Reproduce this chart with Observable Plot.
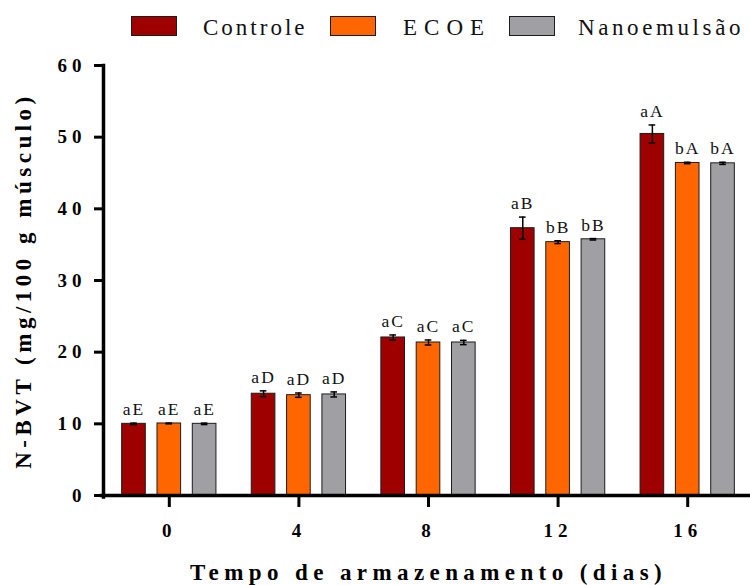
<!DOCTYPE html>
<html>
<head>
<meta charset="utf-8">
<script src="https://cdn.jsdelivr.net/npm/d3@7"></script>
<script src="https://cdn.jsdelivr.net/npm/@observablehq/plot@0.6"></script>
<style>
  body { margin: 0; background: #fff; }
  #chart { position: relative; width: 750px; height: 585px; overflow: hidden; font-family: "Liberation Serif", "Times New Roman", serif; background: #fff; }
  .legend { position: relative; width: 750px; height: 45px; }
  .sw { position: absolute; top: 16px; width: 44px; height: 18px; border: 1px solid #1c1c1c; }
  .lt { position: absolute; top: 16px; font-size: 23px; line-height: 23px; color: #111; white-space: nowrap; }
  #chart svg [aria-label="y-axis tick label"] text,
  #chart svg [aria-label="fx-axis tick label"] text { letter-spacing: 5px; }
  #chart svg [aria-label="y-axis label"] text { font-size: 23px; letter-spacing: 4.5px; }
  #chart svg [aria-label="fx-axis label"] text { font-size: 23px; letter-spacing: 5.4px; }
  #chart svg [aria-label="text"] text { letter-spacing: 2px; }
</style>
</head>
<body>
<div id="chart"></div>
<script>
// Storage days (x groups)
const days = [0, 4, 8, 12, 16];

// Treatments
const seriesNames = ["Controle", "ECOE", "Nanoemulsão"];
const seriesColors = ["#9e0000", "#ff6600", "#a0a0a4"];

// N-BVT means (mg/100 g músculo) and error bars
const controle = [10.0, 14.2, 22.05, 37.3, 50.45];
const controleErr = [0.1, 0.4, 0.35, 1.55, 1.25];
const ecoe = [10.05, 14.0, 21.35, 35.35, 46.4];
const ecoeErr = [0.05, 0.3, 0.35, 0.2, 0.1];
const nano = [10.0, 14.1, 21.35, 35.75, 46.35];
const nanoErr = [0.1, 0.35, 0.3, 0.1, 0.15];

// Significance letters above each bar
const controleLabels = ["aE", "aD", "aC", "aB", "aA"];
const ecoeLabels = ["aE", "aD", "aC", "bB", "bA"];
const nanoLabels = ["aE", "aD", "aC", "bB", "bA"];

// Y axis ticks
const yTicks = [0, 10, 20, 30, 40, 50, 60];

const seriesData = [
  {name: seriesNames[0], values: controle, errors: controleErr, labels: controleLabels},
  {name: seriesNames[1], values: ecoe, errors: ecoeErr, labels: ecoeLabels},
  {name: seriesNames[2], values: nano, errors: nanoErr, labels: nanoLabels}
];

const rows = [];
days.forEach((day, i) => {
  for (const s of seriesData) {
    rows.push({day, series: s.name, value: s.values[i], err: s.errors[i], label: s.labels[i]});
  }
});

// Legend
const legendLayout = [
  {sw: 131, tx: 203, ls: 3},
  {sw: 330, tx: 403, ls: 7},
  {sw: 509, tx: 578, ls: 3.6}
];
const chart = document.getElementById("chart");
const legend = document.createElement("div");
legend.className = "legend";
seriesNames.forEach((name, i) => {
  const sw = document.createElement("div");
  sw.className = "sw";
  sw.style.left = legendLayout[i].sw + "px";
  sw.style.background = seriesColors[i];
  const lt = document.createElement("div");
  lt.className = "lt";
  lt.style.left = legendLayout[i].tx + "px";
  lt.style.letterSpacing = legendLayout[i].ls + "px";
  lt.textContent = name;
  legend.append(sw, lt);
});
chart.append(legend);

const errTop = d => d.value + d.err;
const errBottom = d => d.value - d.err;

const plot = Plot.plot({
  width: 750,
  height: 540,
  marginTop: 20,
  marginBottom: 90,
  marginLeft: 104,
  marginRight: 0,
  style: {fontFamily: "'Liberation Serif', 'Times New Roman', serif", color: "#000", background: "#fff", overflow: "visible"},
  fx: {domain: days, range: [104, 752], padding: 0, round: false},
  x: {domain: seriesNames, paddingInner: 0.331, paddingOuter: 0.5, round: false, axis: null},
  y: {domain: [0, 60]},
  color: {domain: seriesNames, range: seriesColors},
  marks: [
    Plot.barY(rows, {fx: "day", x: "series", y: "value", fill: "series", stroke: "#1c1c1c", strokeWidth: 1}),
    Plot.ruleX(rows, {fx: "day", x: "series", y1: errBottom, y2: errTop, stroke: "#000", strokeWidth: 1.5}),
    Plot.tickY(rows, {fx: "day", x: "series", y: errTop, stroke: "#000", strokeWidth: 1.5, insetLeft: 8.5, insetRight: 8.5}),
    Plot.tickY(rows, {fx: "day", x: "series", y: errBottom, stroke: "#000", strokeWidth: 1.5, insetLeft: 8.5, insetRight: 8.5}),
    Plot.text(rows, {fx: "day", x: "series", y: errTop, text: "label", dy: -8, lineAnchor: "bottom", fontSize: 17.5, fill: "#111"}),
    // x axis baseline drawn once across the whole frame
    Plot.frame({anchor: "bottom", facet: "super", stroke: "#000", strokeWidth: 3.5, insetLeft: -3}),
    Plot.frame({anchor: "left", facetAnchor: "left", stroke: "#000", strokeWidth: 3.5, dx: -1, insetBottom: -1.5}),
    Plot.axisY({
      ticks: yTicks, tickSize: 10, tickPadding: 8, strokeWidth: 3,
      fontSize: 19, fontWeight: "bold", tickFormat: d => String(d),
      label: "N-BVT (mg/100 g músculo)", labelAnchor: "center", labelArrow: false, labelOffset: 90
    }),
    Plot.axisFx({
      anchor: "bottom",
      tickSize: 12, tickPadding: 16, strokeWidth: 3,
      fontSize: 19, fontWeight: "bold",
      label: "Tempo de armazenamento (dias)", labelAnchor: "center", labelOffset: 84
    })
  ]
});
chart.append(plot);
</script>
</body>
</html>
